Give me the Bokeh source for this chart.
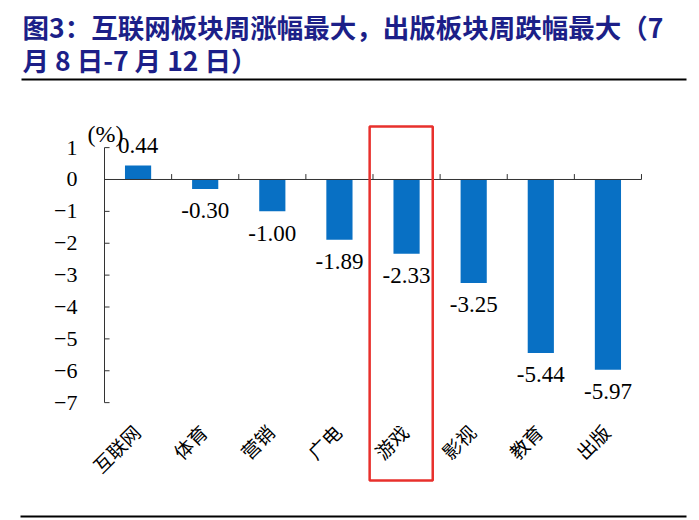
from bokeh.plotting import figure
from bokeh.models import (ColumnDataSource, LinearAxis, FixedTicker, Range1d)
from bokeh.layouts import column
from bokeh.embed import file_html
from bokeh.resources import INLINE
from bokeh.core.properties import value

# ---- data ----
categories = ["互联网", "体育", "营销", "广电", "游戏", "影视", "教育", "出版"]
changes = [0.44, -0.30, -1.00, -1.89, -2.33, -3.25, -5.44, -5.97]
y_ticks = [1, 0, -1, -2, -3, -4, -5, -6, -7]
highlight = "游戏"
title_line1 = "图3：互联网板块周涨幅最大，出版板块周跌幅最大（7"
title_line2 = "月 8 日-7 月 12 日）"
unit_label = "(%)"

W = 691
NAVY = "#1c1f88"
BLUE = "#0870c4"
AXIS = "#333333"
SERIF = "Liberation Serif"
CJK = "Noto Sans CJK SC"


def bare(fig):
    fig.xgrid.visible = False
    fig.ygrid.visible = False
    fig.outline_line_color = None
    fig.background_fill_color = None
    fig.border_fill_color = "white"
    try:
        fig.frame_align = False
    except Exception:
        pass
    return fig


# ---- title figure ----
TH = 84
t = bare(figure(width=W, height=TH, x_range=Range1d(0, W), y_range=Range1d(TH, 0),
                x_axis_location=None, y_axis_location=None, toolbar_location=None,
                min_border=0, output_backend="svg"))
t.text(x=[22, 22], y=[26, 59], text=[title_line1, title_line2],
       text_font=value(CJK), text_font_style="bold", text_font_size="26.5px",
       text_color=NAVY, text_align="left", text_baseline="middle")
t.segment(x0=[21], y0=[79], x1=[686], y1=[79], line_color="black", line_width=2)

# ---- main chart ----
n = len(categories)
centers = [i + 0.5 for i in range(n)]
MH = 421
p = bare(figure(width=W, height=MH, x_range=Range1d(-0.298, 8.745),
                y_range=Range1d(-10.227, 2.980),
                x_axis_location=None, y_axis_location=None, toolbar_location=None,
                min_border_left=84, min_border_right=0, min_border_top=0,
                min_border_bottom=0, output_backend="svg"))

yaxis = LinearAxis(ticker=FixedTicker(ticks=y_ticks))
yaxis.axis_line_color = None
yaxis.major_tick_line_color = None
yaxis.minor_tick_line_color = None
yaxis.major_tick_in = 0
yaxis.major_tick_out = 0
yaxis.major_label_standoff = 7
yaxis.major_label_text_font = SERIF
yaxis.major_label_text_font_size = "22px"
yaxis.major_label_text_color = "black"
p.add_layout(yaxis, "left")

# axis line and inward ticks at x = 0
p.segment(x0=[0], y0=[min(y_ticks)], x1=[0], y1=[max(y_ticks)], line_color=AXIS, line_width=1)
p.segment(x0=[0] * len(y_ticks), y0=y_ticks, x1=[0.075] * len(y_ticks), y1=y_ticks,
          line_color=AXIS, line_width=1)

src = ColumnDataSource(dict(x=centers, top=changes, cat=categories,
                            lab=[f"{v:.2f}" for v in changes],
                            ly=[v + (0.62 if v >= 0 else -0.68) for v in changes],
                            cx=[c - 0.03 for c in centers],
                            cy=[min(y_ticks) - 0.8] * n))
p.vbar(x="x", top="top", bottom=0, width=0.39, source=src, fill_color=BLUE, line_color=None)

# zero line with category separator ticks
p.segment(x0=[0], y0=[0], x1=[n], y1=[0], line_color=AXIS, line_width=1)
bounds_x = list(range(1, n + 1))
p.segment(x0=bounds_x, y0=[0] * n, x1=bounds_x, y1=[0.17] * n, line_color=AXIS, line_width=1)

p.text(x="x", y="ly", text="lab", source=src, text_align="center",
       text_baseline="middle", text_font=value(SERIF), text_font_size="23px",
       text_color="black")
p.text(x="cx", y="cy", text="cat", source=src, text_align="right",
       text_baseline="middle", angle=0.7854, text_font=value(CJK),
       text_font_size="19px", text_color="black")
p.text(x=[0.015], y=[1.44], text=[unit_label], text_align="center", text_baseline="middle",
       text_font=value(SERIF), text_font_size="24px", text_color="black")

hi = categories.index(highlight)
p.quad(left=[hi - 0.05], right=[hi + 0.89], top=[1.66], bottom=[-9.44],
       fill_color=None, line_color="#e8302c", line_width=2.5)

# ---- bottom rule ----
BH = 15
b = bare(figure(width=W, height=BH, x_range=Range1d(0, W), y_range=Range1d(BH, 0),
                x_axis_location=None, y_axis_location=None, toolbar_location=None,
                min_border=0, output_backend="svg"))
b.segment(x0=[20], y0=[11], x1=[686], y1=[11], line_color="black", line_width=2)

layout = column(t, p, b, spacing=0)
open("out.html", "w").write(file_html(layout, INLINE))
